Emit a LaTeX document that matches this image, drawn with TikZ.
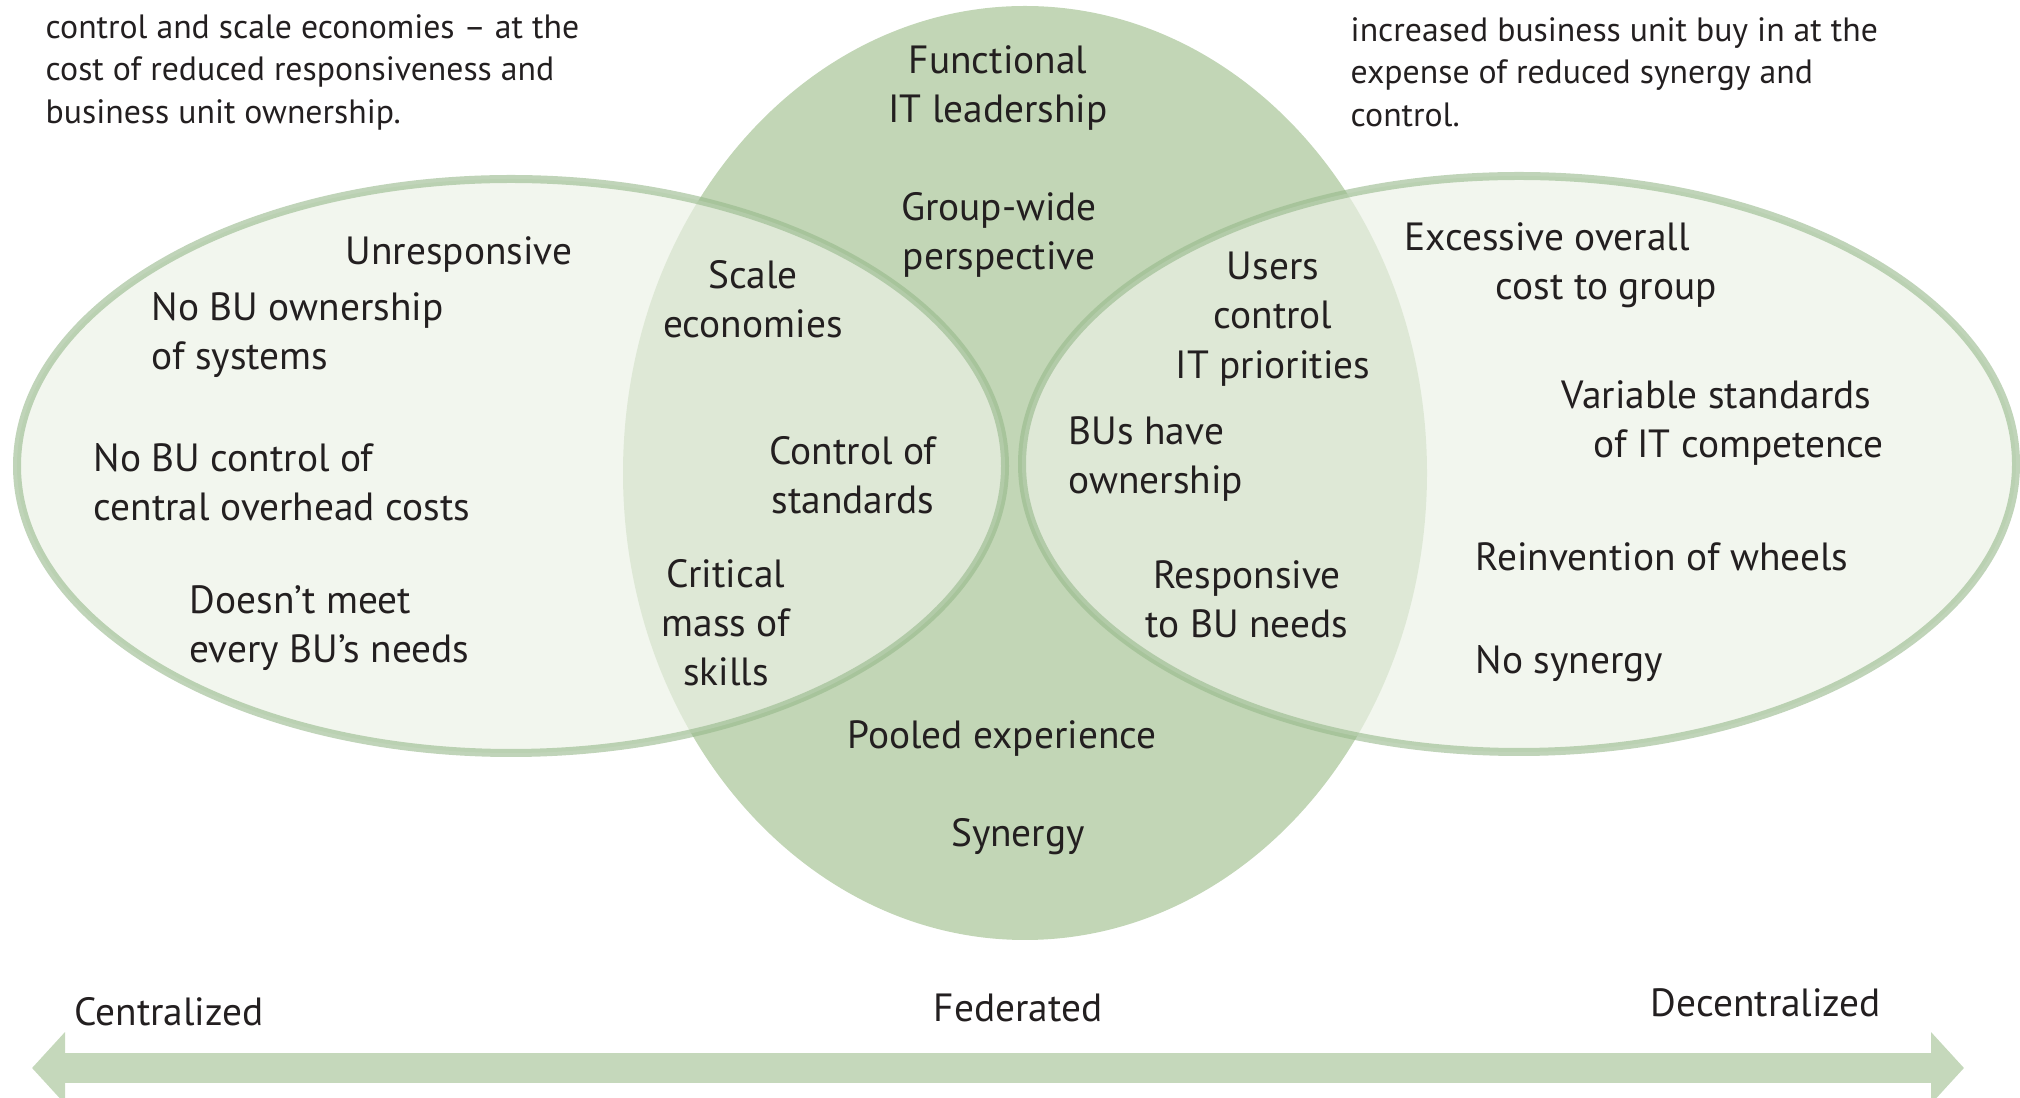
\documentclass[tikz,border=0pt]{standalone}
\usepackage{fontspec}
\setmainfont{PT Sans}
\usetikzlibrary{arrows.meta}

\definecolor{midgreen}{RGB}{194,214,182}
\definecolor{rimgreen}{RGB}{150,184,138}
\definecolor{palegreen}{RGB}{236,242,230}
\definecolor{bargreen}{RGB}{197,216,187}
\definecolor{inkbrown}{RGB}{35,31,32}

\tikzset{
  sidering/.style={fill=palegreen, fill opacity=0.68, draw=rimgreen, draw opacity=0.6, line width=0.08cm},
  lbl/.style={text=inkbrown, font=\fontsize{11.2}{14}\selectfont, inner sep=0pt, align=center},
  lbll/.style={lbl, align=left, anchor=west},
  note/.style={text=inkbrown, font=\fontsize{9.6}{12.1}\selectfont, align=left, inner sep=0pt, anchor=west},
  bar/.style={draw=bargreen, line width=0.3cm, {Triangle[length=0.33cm,width=0.7cm]}-{Triangle[length=0.33cm,width=0.7cm]}}
}

\begin{document}
\begin{tikzpicture}
 \useasboundingbox (0,0) rectangle (20.2,-10.98);
 % the three circles
 \fill[midgreen] (10.25,-4.73) ellipse [x radius=4.02cm, y radius=4.67cm];
 \draw[sidering] (5.11,-4.66) ellipse [x radius=4.94cm, y radius=2.87cm];
 \draw[sidering] (15.19,-4.64) ellipse [x radius=4.97cm, y radius=2.88cm];
 % notes at the top
 \node[note] (cnote) at (0.45,-0.72) {control and scale economies -- at the\\cost of reduced responsiveness and\\business unit ownership.};
 \node[note] (dnote) at (13.50,-0.72) {increased business unit buy in at the\\expense of reduced synergy and\\control.};
 % centralized side
 \node[lbl] (unresp) at (4.59,-2.55) {Unresponsive};
 \node[lbll] (noown) at (1.51,-3.35) {No BU ownership\\of systems};
 \node[lbll] (noctrl) at (0.93,-4.82) {No BU control of\\central overhead costs};
 \node[lbll] (noneed) at (1.89,-6.28) {Doesn’t meet\\every BU’s needs};
 \node[lbl] (scale) at (7.53,-2.99) {Scale\\economies};
 \node[lbl] (stdctrl) at (8.53,-4.75) {Control of\\standards};
 \node[lbl] (skills) at (7.26,-6.23) {Critical\\mass of\\skills};
 % federated middle
 \node[lbl] (funct) at (9.98,-0.88) {Functional\\IT leadership};
 \node[lbl] (group) at (9.99,-2.35) {Group-wide\\perspective};
 \node[lbl] (pooled) at (10.02,-7.39) {Pooled experience};
 \node[lbl] (synergy) at (10.18,-8.37) {Synergy};
 % decentralized side
 \node[lbl] (users) at (12.73,-3.19) {Users\\control\\IT priorities};
 \node[lbll] (buown) at (10.68,-4.59) {BUs have\\ownership};
 \node[lbl] (respon) at (12.47,-5.99) {Responsive\\to BU needs};
 \node[lbll] (excess) at (14.04,-2.65) {Excessive overall\\\hspace*{0.91cm}cost to group};
 \node[lbll] (varstd) at (15.61,-4.23) {Variable standards\\\hspace*{0.32cm}of IT competence};
 \node[lbll] (reinv) at (14.75,-5.57) {Reinvention of wheels};
 \node[lbll] (nosyn) at (14.75,-6.64) {No synergy};
 % the scale
 \node[lbl] (cent) at (1.69,-10.12) {Centralized};
 \node[lbl] (fed) at (10.18,-10.08) {Federated};
 \node[lbl] (decent) at (17.66,-10.03) {Decentralized};
 \coordinate (cleft) at (0.32,-10.68);
 \coordinate (cright) at (19.64,-10.68);
 \draw[bar] (cleft) -- (cright);
\end{tikzpicture}
\end{document}
